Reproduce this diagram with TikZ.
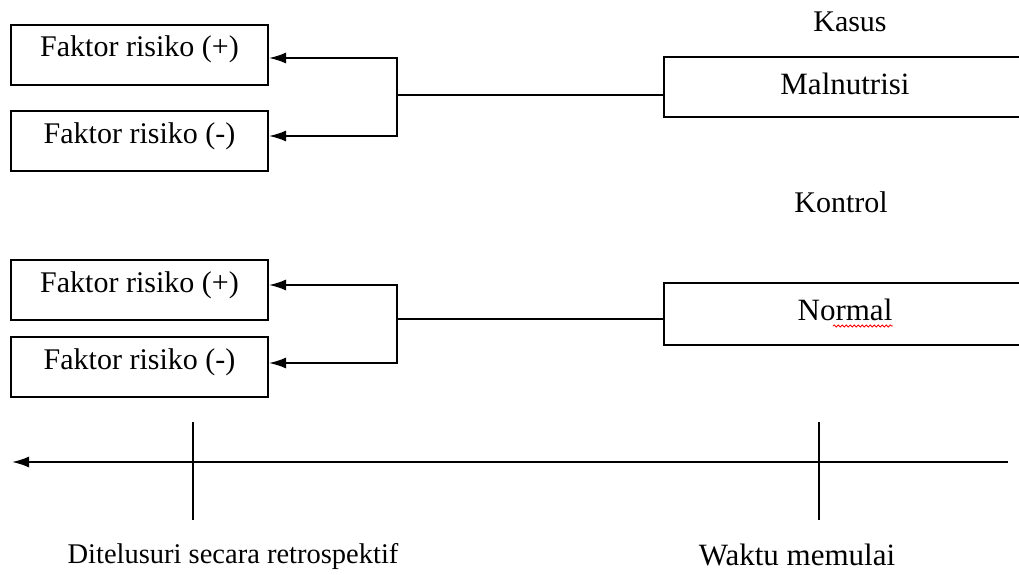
\documentclass[tikz,border=0pt]{standalone}
\usepackage{fontspec}
\setmainfont{Liberation Serif}
\usetikzlibrary{arrows.meta,decorations.pathmorphing}
\begin{document}
\begin{tikzpicture}[x=1pt,y=-1pt,
  lbox/.style={draw,line width=2pt,inner sep=0pt,minimum width=257pt,
    text height=32pt,text depth=28pt,anchor=base,font=\fontsize{30}{32}\selectfont},
  rbox/.style={draw,line width=2pt,inner sep=0pt,minimum width=362pt,
    text height=38pt,text depth=22pt,anchor=base,font=\fontsize{31}{33}\selectfont},
  lbl/.style={inner sep=0pt,anchor=base,font=\fontsize{30}{32}\selectfont},
  conn/.style={line width=1.8pt},
  arr/.style={line width=1.8pt,-{Latex[length=17pt,width=11pt]}},
  tick/.style={line width=1.8pt},
  squig/.style={red,line width=0.8pt,decorate,decoration={snake,amplitude=1.1pt,segment length=4pt}}
]
\path[use as bounding box] (0,0) rectangle (1019,575);
\clip (0,0) rectangle (1019,575);

% left boxes
\node[lbox] (f1) at (139.5,57) {Faktor risiko (+)};
\node[lbox] (f2) at (139.5,143) {Faktor risiko (-)};
\node[lbox] (f3) at (139.5,292) {Faktor risiko (+)};
\node[lbox] (f4) at (139.5,369) {Faktor risiko (-)};

% right boxes
\node[lbl] (kasus) at (850,32) {Kasus};
\node[rbox] (mal) at (845,95) {Malnutrisi};
\node[lbl] (kontrol) at (841,212) {Kontrol};
\node[rbox,text height=37pt,text depth=25pt] (nor) at (845,320) {Normal};
\draw[squig] (833,326) -- (893,326);

% upper connectors
\coordinate (ja) at (397,95);
\coordinate (a1) at (397,58);
\coordinate (a2) at (397,136);
\draw[conn] (ja) -- (ja -| mal.west);
\draw[arr] (ja) -- (a1) -- (a1 -| f1.east);
\draw[arr] (ja) -- (a2) -- (a2 -| f2.east);

% lower connectors
\coordinate (jb) at (397,319);
\coordinate (b1) at (397,285);
\coordinate (b2) at (397,363);
\draw[conn] (jb) -- (jb -| nor.west);
\draw[arr] (jb) -- (b1) -- (b1 -| f3.east);
\draw[arr] (jb) -- (b2) -- (b2 -| f4.east);

% timeline
\coordinate (tr) at (1008,462);
\coordinate (tl) at (12,462);
\draw[arr] (tr) -- (tl);
\coordinate (t1a) at (193,422);
\coordinate (t1b) at (193,520);
\coordinate (t2a) at (819,422);
\coordinate (t2b) at (819,520);
\draw[tick] (t1a) -- (t1b);
\draw[tick] (t2a) -- (t2b);
\node[lbl,font=\fontsize{28.5}{30}\selectfont] (ret) at (233,563) {Ditelusuri secara retrospektif};
\node[lbl,font=\fontsize{31}{33}\selectfont] (mulai) at (797,565) {Waktu memulai};
\end{tikzpicture}
\end{document}
